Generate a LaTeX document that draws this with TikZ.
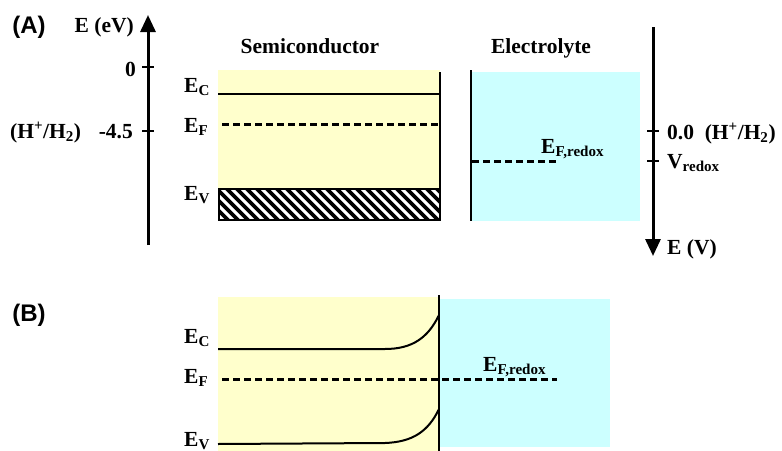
\documentclass[tikz,border=0pt]{standalone}
\usepackage{fontspec}
\setmainfont{Liberation Serif}
\newfontfamily\arialfont{Liberation Sans}
\usetikzlibrary{arrows.meta}
\definecolor{semiyellow}{HTML}{FFFFCC}
\definecolor{electblue}{HTML}{CCFFFF}
\tikzset{
  lbl/.style={font=\fontsize{21.5}{26}\selectfont\bfseries, inner sep=0pt},
  panel/.style={font=\arialfont\fontsize{24}{28}\selectfont\bfseries, inner sep=0pt},
  band/.style={line width=2pt},
  fermi/.style={line width=3pt, dash pattern=on 7pt off 4pt},
  axis/.style={line width=3pt, -{Triangle[width=15pt,length=17pt]}},
  tick/.style={line width=2pt},
  wall/.style={line width=2.4pt},
}
\begin{document}
\begin{tikzpicture}[x=1pt,y=-1pt]
\useasboundingbox (0,0) rectangle (782,450);
\clip (0,0) rectangle (782,450);
% ---------- panel A ----------
\node[panel] (pA) at (29,27) {(A)};
% left axis
\coordinate (laxb) at (148,245);
\coordinate (laxt) at (148,15);
\draw[axis] (laxb) -- (laxt);
\coordinate (t0a) at (142,67); \coordinate (t0b) at (154,67);
\coordinate (t1a) at (142,131); \coordinate (t1b) at (154,131);
\draw[tick] (t0a) -- (t0b);
\draw[tick] (t1a) -- (t1b);
\node[lbl, anchor=base east] (eev) at (134,32) {E (eV)};
\node[lbl, anchor=base east] (zero) at (136,76) {0};
\node[lbl, anchor=base east] (m45) at (133,138) {-4.5};
\node[lbl, anchor=base west] (hh) at (10,138) {(H\textsuperscript{+}/H\textsubscript{2})};
% semiconductor
\node[lbl, anchor=base] (sc) at (310,53) {Semiconductor};
\fill[semiyellow] (218,70) rectangle (440,220);
\draw[wall] (440,72) -- (440,220);
\draw[band] (218,94) -- (440,94);
\draw[fermi] (222,124) -- (440,124);
\begin{scope}
\clip (219,189) rectangle (440,220);
\fill[white] (219,189) rectangle (440,220);
\foreach \x in {150,160,...,450}
  \draw[line width=3.6pt] (\x,182) -- (\x+45,227);
\end{scope}
\draw[line width=2.6pt] (219,189) rectangle (440,220);
\node[lbl, anchor=base west] (ecA) at (184,92) {E\textsubscript{C}};
\node[lbl, anchor=base west] (efA) at (184,132) {E\textsubscript{F}};
\node[lbl, anchor=base west] (evA) at (184,200) {E\textsubscript{V}};
% electrolyte
\node[lbl, anchor=base] (el) at (541,53) {Electrolyte};
\fill[electblue] (472,72) rectangle (640,221);
\draw[wall] (471,70) -- (471,221);
\draw[fermi] (472,161) -- (558,161);
\node[lbl, anchor=base west] (efrA) at (541,153) {E\textsubscript{F,redox}};
% right axis
\coordinate (raxt) at (653,27);
\coordinate (raxb) at (653,256);
\draw[axis] (raxt) -- (raxb);
\draw[tick] (647,131) -- (659,131);
\draw[tick] (647,161) -- (659,161);
\node[lbl, anchor=base west] (r0) at (667,139) {0.0\ \ (H\textsuperscript{+}/H\textsubscript{2})};
\node[lbl, anchor=base west] (vr) at (667,168) {V\textsubscript{redox}};
\node[lbl, anchor=base west] (ev) at (667,254) {E (V)};
% ---------- panel B ----------
\node[panel] (pB) at (29,315) {(B)};
\fill[semiyellow] (218,297) rectangle (440,452);
\fill[electblue] (440,299) rectangle (610,447);
\draw[wall] (439,295) -- (439,452);
\draw[band] (218,349) -- (385,349) .. controls (412,349) and (428,338) .. (439,315);
\draw[band] (218,444) -- (385,443) .. controls (412,442) and (428,432) .. (439,409);
\draw[fermi] (222,379) -- (557,379);
\node[lbl, anchor=base west] (ecB) at (184,343) {E\textsubscript{C}};
\node[lbl, anchor=base west] (efB) at (184,383) {E\textsubscript{F}};
\node[lbl, anchor=base west] (evB) at (184,446) {E\textsubscript{V}};
\node[lbl, anchor=base west] (efrB) at (483,371) {E\textsubscript{F,redox}};
\end{tikzpicture}
\end{document}
